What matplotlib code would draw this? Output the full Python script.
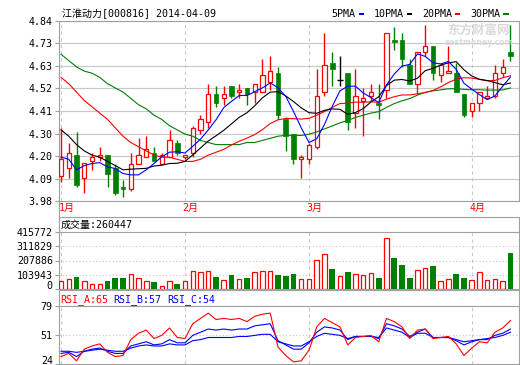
import numpy as np
import pandas as pd
import matplotlib
matplotlib.use('Agg')
import matplotlib.pyplot as plt
from matplotlib.lines import Line2D
from matplotlib.patches import Rectangle

plt.rcParams['font.family'] = ['DejaVu Sans Mono', 'Noto Sans CJK SC']
plt.rcParams['font.size'] = 7.2

RED = '#ff0000'
GREEN = '#008000'
BLUE = '#0000ff'
GRID = '#c8c8c8'
FRAME = '#a0a0a0'

title = '江淮动力[000816] 2014-04-09'
month_idx = [0, 16, 32, 53]
month_labels = ['1月', '2月', '3月', '4月']

opens = [4.10, 4.14, 4.20, 4.09, 4.17, 4.19, 4.20, 4.14, 4.05, 4.04,
         4.16, 4.19, 4.21, 4.16, 4.19, 4.26, 4.19, 4.21, 4.32, 4.36,
         4.49, 4.47, 4.53, 4.50, 4.52, 4.50, 4.50, 4.55, 4.59, 4.37,
         4.30, 4.18, 4.18, 4.24, 4.50, 4.64, 4.56, 4.59, 4.40, 4.46,
         4.48, 4.45, 4.51, 4.75, 4.75, 4.63, 4.54, 4.69, 4.72, 4.58,
         4.59, 4.59, 4.49, 4.41, 4.45, 4.47, 4.48, 4.59, 4.69]
highs = [4.33, 4.26, 4.31, 4.16, 4.21, 4.24, 4.20, 4.16, 4.08, 4.21,
         4.28, 4.29, 4.24, 4.21, 4.32, 4.27, 4.20, 4.34, 4.39, 4.54,
         4.53, 4.53, 4.53, 4.54, 4.52, 4.54, 4.66, 4.67, 4.62, 4.38,
         4.30, 4.20, 4.26, 4.61, 4.78, 4.69, 4.67, 4.59, 4.61, 4.52,
         4.54, 4.54, 4.78, 4.81, 4.78, 4.66, 4.69, 4.82, 4.72, 4.64,
         4.72, 4.64, 4.49, 4.45, 4.50, 4.53, 4.63, 4.66, 4.82]
lows = [4.07, 4.09, 4.05, 4.02, 4.13, 4.17, 4.05, 4.01, 4.00, 4.03,
        4.16, 4.19, 4.17, 4.16, 4.19, 4.20, 4.18, 4.19, 4.30, 4.33,
        4.43, 4.44, 4.47, 4.47, 4.44, 4.45, 4.50, 4.51, 4.37, 4.22,
        4.16, 4.09, 4.16, 4.23, 4.48, 4.53, 4.53, 4.32, 4.33, 4.29,
        4.46, 4.37, 4.47, 4.70, 4.62, 4.54, 4.49, 4.67, 4.56, 4.55,
        4.59, 4.50, 4.38, 4.38, 4.41, 4.47, 4.47, 4.57, 4.65]
closes = [4.18, 4.21, 4.06, 4.16, 4.19, 4.20, 4.11, 4.02, 4.04, 4.16,
          4.20, 4.23, 4.17, 4.20, 4.27, 4.21, 4.20, 4.33, 4.37, 4.49,
          4.45, 4.49, 4.48, 4.51, 4.49, 4.54, 4.58, 4.60, 4.39, 4.29,
          4.18, 4.19, 4.25, 4.48, 4.63, 4.61, 4.56, 4.36, 4.48, 4.47,
          4.50, 4.44, 4.78, 4.74, 4.66, 4.54, 4.69, 4.72, 4.59, 4.63,
          4.60, 4.50, 4.39, 4.45, 4.50, 4.48, 4.59, 4.62, 4.67]

# MA values before enough days are in view
ma5_head = [4.19, 4.18, 4.13, 4.15]
ma10_head = [4.32, 4.29, 4.25, 4.22, 4.20, 4.19, 4.17, 4.15, 4.13]
ma20_head = [4.57, 4.54, 4.50, 4.46, 4.43, 4.40, 4.37, 4.33, 4.29, 4.26,
             4.24, 4.22, 4.20, 4.19, 4.19, 4.18, 4.17, 4.17, 4.18]
ma30_head = [4.68, 4.65, 4.62, 4.60, 4.59, 4.57, 4.54, 4.52, 4.50, 4.47,
             4.44, 4.42, 4.39, 4.37, 4.34, 4.32, 4.30, 4.29, 4.27, 4.26,
             4.25, 4.25, 4.25, 4.25, 4.26, 4.26, 4.27, 4.28, 4.29]

volumes = [58000, 77000, 87000, 63000, 41000, 36000, 58000, 80000, 80000, 111000,
           85000, 58000, 51000, 27000, 58000, 36000, 63000, 135000, 123000, 135000,
           87000, 70000, 102000, 77000, 80000, 128000, 130000, 135000, 102000, 94000,
           109000, 73000, 73000, 208000, 254000, 145000, 94000, 126000, 114000, 102000,
           116000, 80000, 367000, 227000, 176000, 80000, 138000, 152000, 167000, 58000,
           73000, 109000, 80000, 65000, 128000, 65000, 77000, 58000, 260447]

rsi_a = [31, 34, 27, 38, 41, 43, 35, 31, 32, 47, 53, 56, 48, 51, 58, 49, 48, 62, 67, 72,
         66, 67, 66, 67, 64, 69, 71, 72, 40, 32, 26, 27, 37, 59, 67, 63, 59, 42, 49, 50,
         51, 45, 67, 64, 59, 48, 56, 57, 48, 49, 50, 43, 32, 39, 45, 44, 54, 58, 65]
rsi_b = [34, 35, 31, 36, 38, 39, 36, 34, 34, 41, 43, 45, 42, 43, 47, 44, 44, 51, 54, 57,
         56, 57, 56, 57, 57, 60, 61, 62, 46, 42, 38, 38, 44, 54, 59, 58, 56, 47, 50, 50,
         50, 48, 62, 60, 57, 50, 54, 57, 49, 49, 49, 46, 42, 45, 47, 47, 51, 53, 57]
rsi_c = [36, 36, 35, 36, 37, 38, 37, 36, 36, 39, 41, 42, 41, 41, 43, 42, 42, 46, 47, 49,
         49, 49, 49, 50, 50, 51, 52, 52, 45, 43, 41, 41, 45, 50, 53, 52, 51, 48, 50, 50,
         50, 49, 58, 56, 54, 49, 53, 53, 49, 49, 49, 47, 45, 46, 47, 48, 49, 51, 54]

price_ticks = np.linspace(3.98, 4.84, 9)
price_labels = ['3.98', '4.09', '4.20', '4.30', '4.41', '4.52', '4.63', '4.73', '4.84']
vol_ticks = [0, 103943, 207886, 311829, 415772]
rsi_ticks = [24, 51, 79]

W, H = 520, 365
fig = plt.figure(figsize=(W / 100, H / 100), dpi=100)


def box(top, bottom, left=59, right=519.3):
    return [left / W, 1 - bottom / H, (right - left) / W, (bottom - top) / H]


ax1 = fig.add_axes(box(20.7, 201.3))
ax2 = fig.add_axes(box(216.7, 289.3))
ax3 = fig.add_axes(box(290.3, 364.0))

x = np.arange(len(closes))
o, h, l, c = (np.array(a) for a in (opens, highs, lows, closes))
v = np.array(volumes, dtype=float)
up = c > o
down = c < o
flat = c == o

for ax in (ax1, ax2, ax3):
    ax.set_xlim(-0.26, 59.14)
    ax.set_xticks([])
    for s in ax.spines.values():
        s.set_color(FRAME)
        s.set_linewidth(0.8)
    ax.tick_params(axis='y', length=3, width=0.8, color=FRAME, pad=1.5, labelsize=7.2)

# price panel
ax1.set_ylim(3.98, 4.84)
ax1.set_yticks(price_ticks)
ax1.set_yticklabels(price_labels)
for t in price_ticks:
    ax1.axhline(t, color=GRID, lw=0.8, zorder=0)
for m in month_idx:
    ax1.axvline(m, color=GRID, lw=0.8, ls=(0, (3, 3)), zorder=0)

wick_col = np.where(up, RED, np.where(down, GREEN, 'black'))
ax1.vlines(x, l, h, colors=wick_col, lw=1, zorder=2)
ax1.bar(x[up], (c - o)[up], bottom=o[up], width=0.56, facecolor='white',
        edgecolor=RED, lw=0.9, zorder=3)
ax1.bar(x[down], (o - c)[down], bottom=c[down], width=0.62, color=GREEN,
        edgecolor=GREEN, lw=0.5, zorder=3)
ax1.hlines(c[flat], x[flat] - 0.33, x[flat] + 0.33, colors='black', lw=1, zorder=3)

cs = pd.Series(closes)


def moving(n, head):
    m = cs.rolling(n).mean().to_numpy()
    m[:n - 1] = head
    return m


ax1.plot(x, moving(30, ma30_head), color=GREEN, lw=0.8, zorder=4)
ax1.plot(x, moving(20, ma20_head), color=RED, lw=0.8, zorder=4)
ax1.plot(x, moving(10, ma10_head), color='black', lw=0.8, zorder=4)
ax1.plot(x, moving(5, ma5_head), color=BLUE, lw=0.8, zorder=4)

for m, lab in zip(month_idx, month_labels):
    ax1.text(m - 0.3, 3.98 - 0.032, lab, color=RED, ha='left', va='center',
             clip_on=False)

# volume panel
vtop = 415772 * (289.3 - 216.7) / (289.3 - 231.7)
ax2.set_ylim(0, vtop)
ax2.set_yticks(vol_ticks)
ax2.set_yticklabels([str(t) for t in vol_ticks])
ax2.get_yticklabels()[0].set_va('baseline')
ax2.axhline(vol_ticks[-1], color=FRAME, lw=0.8, zorder=0)
for t in vol_ticks[1:-1]:
    ax2.axhline(t, color=GRID, lw=0.8, ls=(0, (1, 2)), zorder=0)
ax2.vlines(month_idx, 0, vol_ticks[-1], color=GRID, lw=0.8, ls=(0, (3, 3)), zorder=0)
vup = c >= o
ax2.bar(x[vup], v[vup], width=0.58, facecolor='white', edgecolor=RED, lw=0.9, zorder=3)
ax2.bar(x[~vup], v[~vup], width=0.72, color=GREEN, lw=0, zorder=3)
ax2.text(60.5 / W, 1 - 224.5 / H, '成交量:%d' % volumes[-1], transform=fig.transFigure,
         ha='left', va='center')

# RSI panel
rtop = 79 + (305.7 - 290.3) * (79 - 24) / (364.0 - 305.7)
ax3.set_ylim(24, rtop)
ax3.set_yticks(rsi_ticks)
ax3.set_yticklabels([str(t) for t in rsi_ticks])
ax3.get_yticklabels()[0].set_va('baseline')
ax3.axhline(79, color=FRAME, lw=0.8, zorder=0)
ax3.axhline(51, color=GRID, lw=0.8, ls=(0, (1, 2)), zorder=0)
ax3.vlines(month_idx, 24, 79, color=GRID, lw=0.8, ls=(0, (3, 3)), zorder=0)
ax3.plot(x, rsi_c, color=BLUE, lw=0.8, zorder=3)
ax3.plot(x, rsi_b, color=BLUE, lw=0.8, zorder=3)
ax3.plot(x, rsi_a, color=RED, lw=0.8, zorder=4)
for xp, lab, val, col in [(60.5, 'RSI_A', rsi_a[-1], RED),
                          (113, 'RSI_B', rsi_b[-1], BLUE),
                          (167, 'RSI_C', rsi_c[-1], BLUE)]:
    fig.text(xp / W, 1 - 300 / H, '%s:%d' % (lab, val), color=col, ha='left', va='center')

# left frame line through the month strip
fig.add_artist(Line2D([59 / W, 59 / W], [1 - 201.3 / H, 1 - 216.7 / H],
                      transform=fig.transFigure, color=FRAME, lw=0.8))

# title and legend
fig.text(62 / W, 1 - 14 / H, title, ha='left', va='center')
for xt, name, xm, col in [(331, '5PMA', 359, BLUE), (374, '10PMA', 406.7, 'black'),
                          (422, '20PMA', 455, RED), (470, '30PMA', 503.3, GREEN)]:
    fig.text(xt / W, 1 - 14.3 / H, name, ha='left', va='center')
    fig.add_artist(Rectangle((xm / W, 1 - 14.8 / H), 5.3 / W, 2.2 / H,
                             transform=fig.transFigure, color=col, lw=0))

# watermark
fig.text(479 / W, 1 - 30 / H, '东方财富网', family='Noto Sans CJK SC', weight='bold',
         fontsize=9, color='#dadada', ha='center', va='center', zorder=0)
fig.text(479 / W, 1 - 42.5 / H, 'eastmoney.com', family='DejaVu Sans', weight='bold',
         fontsize=5.6, color='#dadada', ha='center', va='center', zorder=0)

fig.savefig('out.png', dpi=100)
